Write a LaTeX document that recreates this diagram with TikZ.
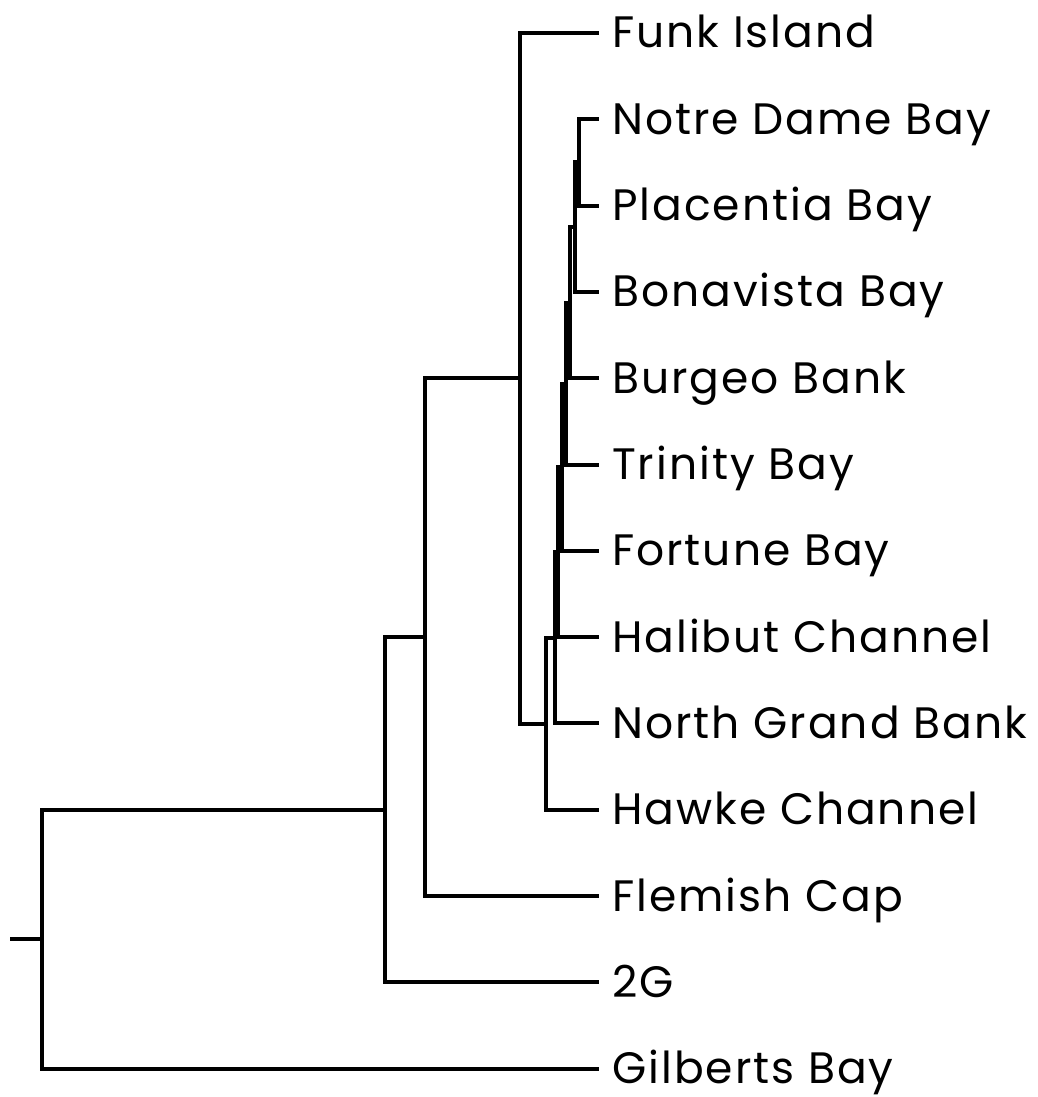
\documentclass[tikz,border=0pt]{standalone}
\usepackage{fontspec}
\setmainfont{Poppins}[LetterSpace=4.5]
\begin{document}
\begin{tikzpicture}[x=1pt,y=-1pt,
  branch/.style={line width=4pt,line cap=rect,line join=miter},
  leaflabel/.style={anchor=base west,inner sep=0pt,font=\fontsize{44}{44}\selectfont}]
\useasboundingbox (0,0) rectangle (1038,1097);
% leaf tips
\foreach \n/\y/\t in {L0/33/Funk Island, L1/119.3/Notre Dame Bay, L2/205.6/Placentia Bay,
  L3/291.9/Bonavista Bay, L4/378.2/Burgeo Bank, L5/464.5/Trinity Bay, L6/550.8/Fortune Bay,
  L7/637.1/Halibut Channel, L8/723.4/North Grand Bank, L9/809.7/Hawke Channel,
  L10/896/Flemish Cap, L11/982.3/2G, L12/1068.6/Gilberts Bay}{
  \coordinate (\n) at (597,\y);
  \node[leaflabel] (t\n) at (612,\y+15) {\t};
}
% internal nodes
\coordinate (N1) at (579,162.45);
\coordinate (N2) at (575,227.2);
\coordinate (N3) at (570,302.7);
\coordinate (N4) at (566,383.6);
\coordinate (N5) at (562,467.2);
\coordinate (N6) at (558,552.15);
\coordinate (N7) at (555,637.8);
\coordinate (A) at (546,723.7);
\coordinate (B) at (520,378.4);
\coordinate (C) at (425,637.2);
\coordinate (D) at (385,809.7);
\coordinate (R) at (42,939.2);
\coordinate (stub) at (12,939.2);
\begin{scope}[branch]
\draw (N1) |- (L1); \draw (N1) |- (L2);
\draw (N2) |- (N1); \draw (N2) |- (L3);
\draw (N3) |- (N2); \draw (N3) |- (L4);
\draw (N4) |- (N3); \draw (N4) |- (L5);
\draw (N5) |- (N4); \draw (N5) |- (L6);
\draw (N6) |- (N5); \draw (N6) |- (L7);
\draw (N7) |- (N6); \draw (N7) |- (L8);
\draw (A) |- (N7); \draw (A) |- (L9);
\draw (B) |- (L0); \draw (B) |- (A);
\draw (C) |- (B); \draw (C) |- (L10);
\draw (D) |- (C); \draw (D) |- (L11);
\draw (R) |- (D); \draw (R) |- (L12);
\draw (stub) -- (R);
\end{scope}
\end{tikzpicture}
\end{document}
